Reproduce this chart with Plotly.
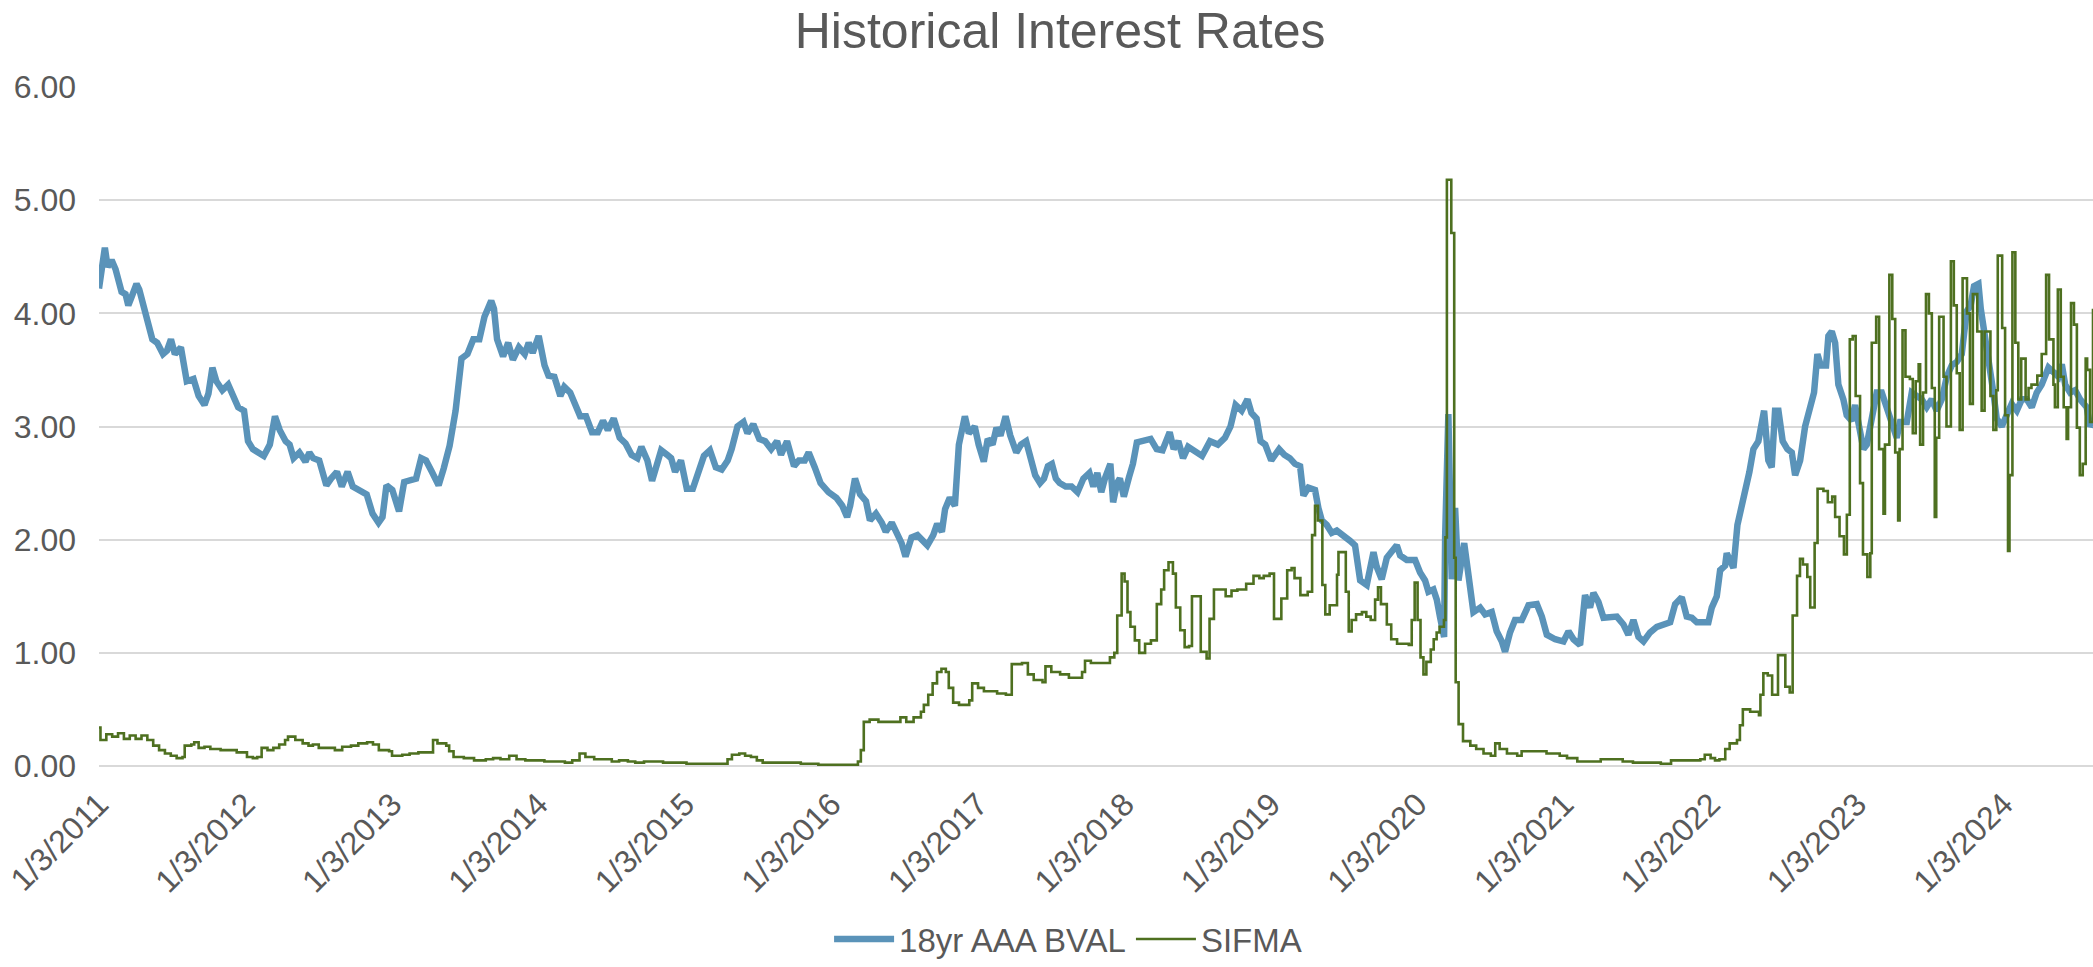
import pandas as pd
import plotly.graph_objects as go

# ---- data: weekly readings, time stored as decimal years counted from 1/3/2011 ----
bval_year = [
    2011.000, 2011.040, 2011.059, 2011.086, 2011.113, 2011.154, 2011.181, 2011.200, 2011.221, 2011.256,
    2011.275, 2011.316, 2011.343, 2011.364, 2011.397, 2011.437, 2011.464, 2011.491, 2011.518, 2011.559,
    2011.599, 2011.645, 2011.680, 2011.720, 2011.747, 2011.774, 2011.801, 2011.842, 2011.882, 2011.923,
    2011.950, 2011.990, 2012.017, 2012.050, 2012.085, 2012.125, 2012.166, 2012.201, 2012.233, 2012.274,
    2012.301, 2012.328, 2012.368, 2012.409, 2012.436, 2012.462, 2012.503, 2012.552, 2012.584, 2012.624,
    2012.657, 2012.697, 2012.732, 2012.773, 2012.827, 2012.867, 2012.908, 2012.935, 2012.962, 2013.002,
    2013.048, 2013.083, 2013.124, 2013.164, 2013.199, 2013.232, 2013.272, 2013.318, 2013.353, 2013.393,
    2013.434, 2013.474, 2013.515, 2013.555, 2013.596, 2013.631, 2013.677, 2013.696, 2013.717, 2013.758,
    2013.793, 2013.825, 2013.866, 2013.906, 2013.933, 2013.960, 2014.001, 2014.041, 2014.068, 2014.108,
    2014.149, 2014.176, 2014.216, 2014.251, 2014.284, 2014.324, 2014.365, 2014.405, 2014.440, 2014.473,
    2014.513, 2014.554, 2014.594, 2014.635, 2014.675, 2014.702, 2014.743, 2014.775, 2014.810, 2014.837,
    2014.878, 2014.905, 2014.932, 2014.972, 2015.012, 2015.053, 2015.129, 2015.170, 2015.210, 2015.250,
    2015.291, 2015.318, 2015.358, 2015.399, 2015.426, 2015.466, 2015.507, 2015.547, 2015.588, 2015.628,
    2015.655, 2015.696, 2015.744, 2015.777, 2015.817, 2015.844, 2015.885, 2015.925, 2015.979, 2016.033,
    2016.073, 2016.106, 2016.127, 2016.160, 2016.195, 2016.235, 2016.262, 2016.303, 2016.343, 2016.370,
    2016.411, 2016.451, 2016.478, 2016.505, 2016.546, 2016.586, 2016.654, 2016.694, 2016.721, 2016.753,
    2016.775, 2016.807, 2016.842, 2016.869, 2016.910, 2016.937, 2016.977, 2017.004, 2017.039, 2017.066,
    2017.099, 2017.126, 2017.153, 2017.188, 2017.220, 2017.261, 2017.293, 2017.328, 2017.369, 2017.390,
    2017.423, 2017.450, 2017.477, 2017.504, 2017.531, 2017.557, 2017.598, 2017.638, 2017.679, 2017.719,
    2017.760, 2017.787, 2017.814, 2017.841, 2017.868, 2017.903, 2017.922, 2017.949, 2017.968, 2017.995,
    2018.030, 2018.057, 2018.084, 2018.124, 2018.178, 2018.219, 2018.259, 2018.308, 2018.335, 2018.367,
    2018.399, 2018.434, 2018.475, 2018.529, 2018.583, 2018.637, 2018.685, 2018.723, 2018.758, 2018.799,
    2018.839, 2018.866, 2018.901, 2018.928, 2018.960, 2019.001, 2019.055, 2019.090, 2019.128, 2019.163,
    2019.198, 2019.221, 2019.255, 2019.300, 2019.323, 2019.346, 2019.380, 2019.414, 2019.448, 2019.494,
    2019.539, 2019.573, 2019.608, 2019.653, 2019.699, 2019.721, 2019.755, 2019.790, 2019.824, 2019.858,
    2019.881, 2019.926, 2019.983, 2020.017, 2020.051, 2020.074, 2020.108, 2020.131, 2020.154, 2020.181,
    2020.188, 2020.210, 2020.233, 2020.256, 2020.279, 2020.318, 2020.347, 2020.381, 2020.427, 2020.461,
    2020.506, 2020.540, 2020.575, 2020.597, 2020.631, 2020.665, 2020.711, 2020.757, 2020.814, 2020.848,
    2020.882, 2020.939, 2020.996, 2021.030, 2021.064, 2021.109, 2021.143, 2021.177, 2021.200, 2021.234,
    2021.269, 2021.314, 2021.360, 2021.405, 2021.439, 2021.473, 2021.508, 2021.542, 2021.587, 2021.633,
    2021.689, 2021.724, 2021.758, 2021.803, 2021.837, 2021.872, 2021.906, 2021.928, 2021.985, 2022.008,
    2022.042, 2022.065, 2022.099, 2022.110, 2022.156, 2022.183, 2022.201, 2022.235, 2022.265, 2022.292,
    2022.326, 2022.365, 2022.394, 2022.417, 2022.440, 2022.463, 2022.492, 2022.524, 2022.554, 2022.577,
    2022.611, 2022.645, 2022.679, 2022.706, 2022.729, 2022.752, 2022.788, 2022.804, 2022.827, 2022.850,
    2022.872, 2022.906, 2022.929, 2022.963, 2022.986, 2023.009, 2023.043, 2023.066, 2023.100, 2023.134,
    2023.168, 2023.202, 2023.236, 2023.270, 2023.293, 2023.339, 2023.373, 2023.407, 2023.441, 2023.475,
    2023.509, 2023.543, 2023.578, 2023.612, 2023.646, 2023.680, 2023.714, 2023.748, 2023.775, 2023.798,
    2023.828, 2023.844, 2023.873, 2023.896, 2023.930, 2023.953, 2023.987, 2024.021, 2024.055, 2024.090,
    2024.124, 2024.158, 2024.192, 2024.226, 2024.260, 2024.306, 2024.340, 2024.374, 2024.397, 2024.420,
    2024.454, 2024.488, 2024.522, 2024.567, 2024.590, 2024.610,
]
bval_rate = [
    4.22, 4.58, 4.41, 4.47, 4.39, 4.19, 4.17, 4.07, 4.14, 4.26,
    4.21, 3.99, 3.90, 3.77, 3.74, 3.64, 3.67, 3.77, 3.64, 3.70,
    3.40, 3.42, 3.27, 3.19, 3.29, 3.52, 3.40, 3.32, 3.37, 3.25,
    3.17, 3.14, 2.87, 2.80, 2.77, 2.74, 2.84, 3.09, 2.97, 2.87,
    2.84, 2.72, 2.77, 2.69, 2.77, 2.72, 2.70, 2.48, 2.54, 2.60,
    2.47, 2.60, 2.47, 2.44, 2.40, 2.23, 2.15, 2.20, 2.48, 2.44,
    2.25, 2.51, 2.52, 2.54, 2.72, 2.70, 2.60, 2.48, 2.63, 2.83,
    3.14, 3.60, 3.64, 3.77, 3.77, 3.97, 4.11, 4.04, 3.77, 3.62,
    3.74, 3.59, 3.70, 3.64, 3.74, 3.65, 3.80, 3.54, 3.45, 3.44,
    3.27, 3.35, 3.30, 3.20, 3.09, 3.09, 2.95, 2.95, 3.05, 2.97,
    3.07, 2.90, 2.85, 2.75, 2.72, 2.82, 2.70, 2.52, 2.65, 2.79,
    2.75, 2.72, 2.60, 2.70, 2.45, 2.45, 2.74, 2.79, 2.64, 2.62,
    2.70, 2.80, 3.00, 3.04, 2.94, 3.02, 2.89, 2.87, 2.80, 2.87,
    2.75, 2.87, 2.65, 2.70, 2.70, 2.77, 2.64, 2.50, 2.42, 2.37,
    2.30, 2.20, 2.30, 2.54, 2.40, 2.34, 2.17, 2.23, 2.15, 2.07,
    2.15, 2.04, 1.97, 1.85, 2.02, 2.04, 1.95, 2.04, 2.14, 2.07,
    2.27, 2.37, 2.30, 2.84, 3.09, 2.94, 3.00, 2.84, 2.69, 2.89,
    2.84, 2.99, 2.92, 3.09, 2.92, 2.77, 2.84, 2.87, 2.70, 2.57,
    2.50, 2.54, 2.65, 2.67, 2.54, 2.50, 2.47, 2.47, 2.42, 2.54,
    2.59, 2.47, 2.59, 2.42, 2.55, 2.67, 2.33, 2.50, 2.54, 2.38,
    2.55, 2.67, 2.86, 2.87, 2.89, 2.80, 2.79, 2.95, 2.80, 2.87,
    2.72, 2.82, 2.79, 2.74, 2.87, 2.84, 2.90, 3.00, 3.19, 3.14,
    3.24, 3.12, 3.07, 2.87, 2.84, 2.70, 2.80, 2.75, 2.72, 2.67,
    2.65, 2.39, 2.46, 2.44, 2.28, 2.17, 2.13, 2.06, 2.08, 2.04,
    1.99, 1.95, 1.64, 1.60, 1.89, 1.76, 1.65, 1.84, 1.89, 1.95,
    1.86, 1.82, 1.82, 1.71, 1.64, 1.54, 1.56, 1.47, 1.31, 1.14,
    2.02, 3.11, 1.65, 2.28, 1.64, 1.97, 1.69, 1.36, 1.40, 1.34,
    1.36, 1.19, 1.10, 1.01, 1.18, 1.29, 1.29, 1.42, 1.43, 1.32,
    1.16, 1.12, 1.10, 1.19, 1.12, 1.07, 1.51, 1.40, 1.53, 1.45,
    1.31, 1.31, 1.32, 1.25, 1.16, 1.29, 1.14, 1.10, 1.18, 1.23,
    1.25, 1.27, 1.43, 1.49, 1.32, 1.31, 1.27, 1.27, 1.27, 1.40,
    1.50, 1.73, 1.77, 1.88, 1.75, 2.13, 2.23, 2.40, 2.60, 2.80,
    2.87, 3.14, 2.70, 2.64, 3.14, 3.14, 2.87, 2.80, 2.77, 2.57,
    2.70, 3.00, 3.17, 3.30, 3.64, 3.54, 3.54, 3.80, 3.84, 3.74,
    3.37, 3.24, 3.10, 3.05, 3.19, 3.04, 2.80, 2.84, 3.04, 3.30,
    3.30, 3.17, 3.04, 2.90, 3.04, 3.04, 3.30, 3.27, 3.24, 3.17,
    3.24, 3.14, 3.24, 3.44, 3.54, 3.57, 3.64, 4.02, 4.07, 4.24,
    4.26, 4.04, 3.80, 3.64, 3.30, 3.07, 3.00, 3.10, 3.20, 3.14,
    3.24, 3.24, 3.17, 3.30, 3.37, 3.52, 3.47, 3.44, 3.55, 3.37,
    3.30, 3.32, 3.24, 3.17, 3.00, 3.04,
]

sifma_year = [
    2011.000, 2011.010, 2011.050, 2011.090, 2011.130, 2011.170, 2011.210, 2011.250, 2011.290, 2011.330,
    2011.370, 2011.410, 2011.450, 2011.490, 2011.530, 2011.570, 2011.585, 2011.630, 2011.650, 2011.680,
    2011.720, 2011.760, 2011.830, 2011.900, 2011.940, 2011.980, 2012.010, 2012.050, 2012.080, 2012.110,
    2012.150, 2012.190, 2012.230, 2012.270, 2012.290, 2012.340, 2012.390, 2012.430, 2012.460, 2012.500,
    2012.560, 2012.610, 2012.660, 2012.720, 2012.770, 2012.830, 2012.870, 2012.910, 2012.980, 2013.000,
    2013.070, 2013.120, 2013.180, 2013.250, 2013.280, 2013.310, 2013.370, 2013.390, 2013.420, 2013.490,
    2013.560, 2013.640, 2013.690, 2013.740, 2013.800, 2013.850, 2013.910, 2013.990, 2014.040, 2014.110,
    2014.180, 2014.230, 2014.280, 2014.320, 2014.380, 2014.450, 2014.500, 2014.550, 2014.610, 2014.660,
    2014.720, 2014.790, 2014.850, 2014.930, 2015.010, 2015.140, 2015.260, 2015.290, 2015.320, 2015.370,
    2015.410, 2015.450, 2015.490, 2015.530, 2015.640, 2015.790, 2015.910, 2016.150, 2016.180, 2016.200,
    2016.220, 2016.260, 2016.320, 2016.370, 2016.420, 2016.470, 2016.510, 2016.560, 2016.610, 2016.630,
    2016.660, 2016.690, 2016.720, 2016.750, 2016.780, 2016.800, 2016.830, 2016.870, 2016.940, 2016.960,
    2017.000, 2017.040, 2017.130, 2017.190, 2017.230, 2017.270, 2017.300, 2017.340, 2017.380, 2017.440,
    2017.460, 2017.500, 2017.560, 2017.620, 2017.680, 2017.710, 2017.730, 2017.770, 2017.840, 2017.900,
    2017.930, 2017.950, 2017.980, 2018.000, 2018.020, 2018.040, 2018.070, 2018.100, 2018.140, 2018.180,
    2018.220, 2018.250, 2018.270, 2018.300, 2018.330, 2018.350, 2018.380, 2018.410, 2018.440, 2018.460,
    2018.490, 2018.520, 2018.560, 2018.580, 2018.610, 2018.660, 2018.690, 2018.730, 2018.770, 2018.830,
    2018.880, 2018.920, 2018.950, 2018.990, 2019.020, 2019.040, 2019.070, 2019.110, 2019.140, 2019.160,
    2019.200, 2019.250, 2019.280, 2019.300, 2019.320, 2019.350, 2019.370, 2019.400, 2019.430, 2019.450,
    2019.460, 2019.490, 2019.510, 2019.530, 2019.550, 2019.580, 2019.620, 2019.650, 2019.680, 2019.710,
    2019.730, 2019.750, 2019.790, 2019.820, 2019.860, 2019.900, 2019.940, 2019.960, 2019.980, 2020.000,
    2020.020, 2020.040, 2020.060, 2020.090, 2020.110, 2020.130, 2020.150, 2020.180, 2020.190, 2020.200,
    2020.230, 2020.250, 2020.260, 2020.280, 2020.310, 2020.360, 2020.400, 2020.450, 2020.500, 2020.530,
    2020.560, 2020.610, 2020.680, 2020.710, 2020.790, 2020.880, 2020.970, 2021.020, 2021.090, 2021.180,
    2021.250, 2021.360, 2021.400, 2021.470, 2021.590, 2021.660, 2021.730, 2021.860, 2021.930, 2021.960,
    2022.000, 2022.030, 2022.060, 2022.100, 2022.130, 2022.180, 2022.200, 2022.220, 2022.270, 2022.330,
    2022.340, 2022.360, 2022.390, 2022.420, 2022.440, 2022.460, 2022.490, 2022.510, 2022.540, 2022.560,
    2022.590, 2022.610, 2022.630, 2022.660, 2022.680, 2022.710, 2022.730, 2022.770, 2022.800, 2022.830,
    2022.850, 2022.880, 2022.910, 2022.930, 2022.950, 2022.970, 2022.990, 2023.020, 2023.040, 2023.070,
    2023.090, 2023.100, 2023.130, 2023.150, 2023.180, 2023.190, 2023.220, 2023.240, 2023.260, 2023.280,
    2023.290, 2023.310, 2023.330, 2023.360, 2023.380, 2023.400, 2023.420, 2023.430, 2023.450, 2023.470,
    2023.490, 2023.510, 2023.530, 2023.540, 2023.560, 2023.590, 2023.610, 2023.640, 2023.660, 2023.680,
    2023.700, 2023.720, 2023.750, 2023.770, 2023.790, 2023.820, 2023.850, 2023.870, 2023.910, 2023.930,
    2023.950, 2023.960, 2023.990, 2024.010, 2024.030, 2024.040, 2024.060, 2024.080, 2024.100, 2024.120,
    2024.150, 2024.170, 2024.190, 2024.230, 2024.260, 2024.290, 2024.310, 2024.340, 2024.350, 2024.370,
    2024.390, 2024.410, 2024.430, 2024.440, 2024.460, 2024.480, 2024.500, 2024.520, 2024.540, 2024.560,
    2024.570, 2024.590, 2024.610,
]
sifma_rate = [
    0.34, 0.23, 0.28, 0.26, 0.29, 0.24, 0.27, 0.24, 0.27, 0.23,
    0.18, 0.14, 0.11, 0.09, 0.07, 0.08, 0.18, 0.19, 0.21, 0.16,
    0.17, 0.15, 0.14, 0.14, 0.12, 0.12, 0.08, 0.07, 0.08, 0.16,
    0.14, 0.16, 0.19, 0.23, 0.26, 0.23, 0.20, 0.18, 0.19, 0.16,
    0.16, 0.14, 0.17, 0.18, 0.20, 0.21, 0.19, 0.14, 0.13, 0.09,
    0.10, 0.11, 0.12, 0.12, 0.23, 0.20, 0.18, 0.13, 0.08, 0.07,
    0.05, 0.06, 0.07, 0.06, 0.09, 0.06, 0.05, 0.05, 0.04, 0.04,
    0.03, 0.05, 0.11, 0.08, 0.06, 0.06, 0.04, 0.05, 0.04, 0.03,
    0.04, 0.04, 0.03, 0.03, 0.02, 0.02, 0.02, 0.06, 0.10, 0.11,
    0.09, 0.08, 0.05, 0.03, 0.03, 0.02, 0.01, 0.01, 0.04, 0.14,
    0.39, 0.41, 0.39, 0.39, 0.39, 0.43, 0.39, 0.43, 0.48, 0.54,
    0.63, 0.73, 0.83, 0.86, 0.83, 0.69, 0.56, 0.54, 0.58, 0.73,
    0.69, 0.66, 0.64, 0.63, 0.90, 0.90, 0.91, 0.81, 0.76, 0.74,
    0.88, 0.83, 0.81, 0.78, 0.78, 0.83, 0.93, 0.91, 0.91, 0.96,
    1.00, 1.33, 1.70, 1.63, 1.36, 1.23, 1.11, 1.00, 1.08, 1.11,
    1.43, 1.56, 1.73, 1.80, 1.70, 1.40, 1.20, 1.05, 1.06, 1.50,
    1.50, 1.01, 0.95, 1.30, 1.56, 1.56, 1.50, 1.55, 1.56, 1.61,
    1.68, 1.66, 1.68, 1.70, 1.30, 1.30, 1.48, 1.73, 1.75, 1.66,
    1.51, 1.54, 2.04, 2.30, 2.17, 1.60, 1.34, 1.42, 1.42, 1.69,
    1.89, 1.89, 1.54, 1.19, 1.29, 1.34, 1.36, 1.32, 1.29, 1.47,
    1.58, 1.43, 1.25, 1.12, 1.08, 1.08, 1.07, 1.29, 1.62, 1.29,
    0.96, 0.81, 0.92, 1.03, 1.12, 1.18, 1.23, 1.29, 2.02, 5.18,
    4.71, 1.84, 0.74, 0.37, 0.22, 0.18, 0.15, 0.11, 0.09, 0.20,
    0.15, 0.11, 0.09, 0.13, 0.13, 0.11, 0.09, 0.07, 0.04, 0.04,
    0.06, 0.06, 0.04, 0.03, 0.03, 0.02, 0.05, 0.05, 0.06, 0.10,
    0.07, 0.05, 0.06, 0.15, 0.20, 0.23, 0.36, 0.50, 0.48, 0.45,
    0.63, 0.82, 0.80, 0.63, 0.63, 0.98, 0.98, 0.70, 0.65, 1.33,
    1.68, 1.83, 1.78, 1.67, 1.40, 1.97, 2.45, 2.43, 2.33, 2.38,
    2.20, 2.03, 1.87, 2.22, 3.77, 3.80, 3.27, 2.50, 1.87, 1.67,
    1.88, 3.74, 3.97, 2.80, 2.23, 2.84, 4.34, 3.95, 2.77, 2.17,
    2.80, 3.85, 3.44, 3.42, 2.94, 3.40, 3.55, 2.84, 3.30, 4.17,
    4.00, 3.34, 2.20, 2.90, 3.97, 3.44, 3.00, 4.46, 4.07, 3.47,
    2.97, 4.31, 4.00, 3.20, 4.17, 3.84, 3.14, 3.84, 3.27, 2.97,
    3.32, 4.51, 3.87, 3.10, 1.90, 2.57, 4.54, 3.74, 3.24, 3.60,
    3.24, 3.34, 3.37, 3.45, 3.64, 4.34, 3.77, 3.37, 3.17, 4.21,
    3.44, 3.17, 2.89, 3.17, 4.09, 3.90, 2.99, 2.57, 2.67, 3.60,
    3.50, 3.04, 4.04,
]

tick_years = list(range(2011, 2025))
tick_labels = [f"1/3/{y}" for y in tick_years]
y_ticks = [0, 1, 2, 3, 4, 5, 6]

ORIGIN = pd.Timestamp("2011-01-03")


def to_dates(years):
    """Decimal years (2011.0 == 1/3/2011) -> timestamps."""
    return [ORIGIN + pd.to_timedelta((y - 2011.0) * 365.25, unit="D") for y in years]


bval_dates = to_dates(bval_year)
sifma_dates = to_dates(sifma_year)
tick_dates = [pd.Timestamp(f"{y}-01-03") for y in tick_years]

TEXT = "#595959"
FONT = "Liberation Sans, Arial, sans-serif"

fig = go.Figure()
fig.add_trace(go.Scatter(
    x=bval_dates, y=bval_rate, mode="lines", name="18yr AAA BVAL",
    line=dict(color="#5a93b9", width=6.5),
))
fig.add_trace(go.Scatter(
    x=sifma_dates, y=sifma_rate, mode="lines", name="SIFMA",
    line=dict(color="#4e7020", width=2.6, shape="hv"),
))

fig.update_layout(
    width=2093, height=967,
    margin=dict(l=99, r=0, t=87, b=197),
    paper_bgcolor="white", plot_bgcolor="white",
    font=dict(family=FONT, color=TEXT, size=32),
    title=dict(
        text="Historical Interest Rates", x=0.482, xref="paper", xanchor="center",
        y=1 - 30 / 967, yref="container", yanchor="middle",
        font=dict(size=50, color=TEXT, family=FONT),
    ),
    showlegend=True,
    legend=dict(
        orientation="h", x=0.486, xanchor="center", y=-0.255, yanchor="middle",
        font=dict(size=33, color=TEXT), itemwidth=60, bgcolor="rgba(0,0,0,0)",
    ),
)
fig.update_xaxes(
    type="date", range=[bval_dates[0], bval_dates[-1]],
    tickvals=tick_dates, ticktext=tick_labels, tickangle=-45,
    showgrid=False, zeroline=False, showline=False, ticks="",
    tickfont=dict(size=32, color=TEXT), ticklabelstandoff=12,
)
fig.update_yaxes(
    range=[0, 6], tickvals=y_ticks, tickformat=".2f",
    showgrid=True, gridcolor="#d9d9d9", gridwidth=1.6,
    zeroline=True, zerolinecolor="#d9d9d9", zerolinewidth=1.6,
    showline=False, ticks="", tickfont=dict(size=32, color=TEXT),
    ticklabelstandoff=22,
)

fig.write_html("out.html")
